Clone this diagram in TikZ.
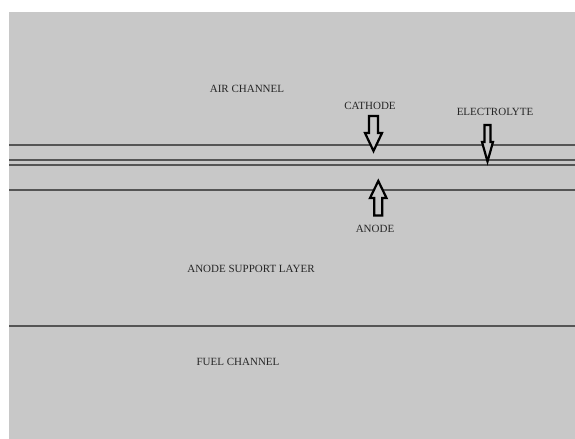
\documentclass[tikz,border=0pt]{standalone}
\usepackage{fontspec}
\setmainfont{Liberation Serif}
\definecolor{bggray}{HTML}{C8C8C8}
\definecolor{linegray}{HTML}{555555}
\begin{document}
\begin{tikzpicture}[x=1bp,y=-1bp,
  lbl/.style={inner sep=0pt,font=\fontsize{11bp}{13bp}\selectfont,text=black!85},
  layerline/.style={draw=linegray,line width=1.1bp},
  blockarrow/.style={draw=black,line width=2.2bp,fill=bggray,line join=miter}]
\useasboundingbox (0,0) rectangle (575,439);
\fill[white] (0,0) rectangle (575,439);
\fill[bggray] (9,12) rectangle (575,439);
% layer boundaries
\foreach \yy in {145,160,165,190,326}
  \draw[layerline] (9,\yy) -- (575,\yy);
% labels
\node[lbl] (air) at (247,89) {AIR CHANNEL};
\node[lbl] (cath) at (370,105.5) {CATHODE};
\node[lbl] (elec) at (495,111.5) {ELECTROLYTE};
\node[lbl] (anode) at (375,229) {ANODE};
\node[lbl] (asl) at (251,268.5) {ANODE SUPPORT LAYER};
\node[lbl] (fuel) at (238,361.5) {FUEL CHANNEL};
% cathode arrow (down)
\draw[blockarrow] (369,116) -- (378,116) -- (378,133) -- (382,133) -- (373.5,151) -- (365,133) -- (369,133) -- cycle;
% electrolyte arrow (down)
\draw[blockarrow] (484.5,125) -- (490.5,125) -- (490.5,142) -- (493,142) -- (487.5,161.5) -- (482,142) -- (484.5,142) -- cycle;
% anode arrow (up)
\draw[blockarrow] (374.3,215.5) -- (382.3,215.5) -- (382.3,198) -- (386.5,198) -- (378.3,181) -- (370,198) -- (374.3,198) -- cycle;
\end{tikzpicture}
\end{document}
